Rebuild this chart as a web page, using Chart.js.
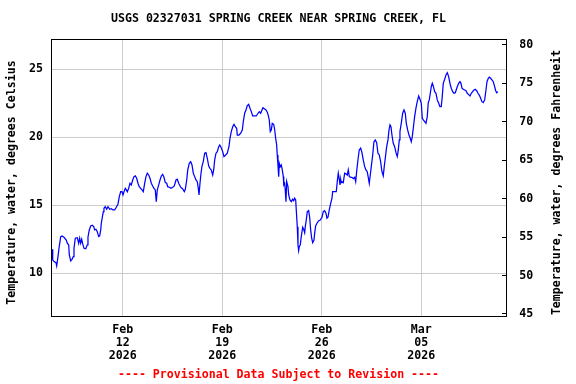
<!DOCTYPE html>
<html lang="en">
<head>
<meta charset="UTF-8">
<title>USGS 02327031 Spring Creek near Spring Creek, FL</title>
<script src="https://cdn.jsdelivr.net/npm/chart.js"></script>
<style>
  html, body { margin: 0; padding: 0; background: #fff; }
  #wrap { width: 576px; height: 384px; }
</style>
</head>
<body>
<div id="wrap"><canvas id="chart" width="576" height="384"></canvas></div>
<script>
// hours since 2026-02-07 00:00
const hours = [
  0.7, 1.9, 4.1, 7.4, 8.6, 10.8, 12.5, 15.4, 17.6, 20.9, 24.8, 26.5, 28.9, 29.9, 32.2, 34.4, 36.6, 37.8,
  40.0, 43.4, 45.7, 47.4, 49.1, 50.8, 52.5, 54.7, 57.6, 60.3, 61.4, 63.6, 66.0, 68.7, 71.1, 72.7, 74.9,
  77.1, 79.5, 81.2, 82.9, 83.9, 85.6, 87.3, 88.4, 90.6, 93.0, 95.2, 98.1, 100.8, 103.6, 106.5, 109.2,
  112.1, 114.3, 116.6, 118.8, 120.5, 122.2, 124.4, 126.1, 127.8, 130.1, 132.3, 134.5, 136.9, 139.1,
  141.3, 143.6, 145.8, 148.0, 150.4, 152.6, 154.8, 157.1, 159.3, 161.5, 163.9, 166.1, 168.3, 170.6,
  172.8, 175.0, 176.7, 178.4, 180.8, 183.0, 185.2, 187.5, 189.7, 191.9, 194.3, 196.0, 198.7, 201.5,
  204.4, 207.1, 210.0, 212.2, 214.5, 217.9, 221.3, 224.0, 225.7, 228.1, 229.8, 232.4, 234.8, 237.0,
  239.2, 241.5, 243.7, 246.0, 247.6, 248.8, 250.5, 252.2, 253.9, 256.0, 258.4, 260.6, 262.8, 265.2,
  267.3, 269.5, 271.9, 273.6, 275.3, 277.5, 279.7, 282.1, 283.8, 286.0, 288.8, 291.0, 293.8, 296.5,
  299.4, 301.1, 303.3, 305.7, 307.9, 310.1, 312.4, 313.4, 316.3, 319.2, 321.9, 323.6, 325.9, 328.1,
  330.3, 332.7, 334.9, 337.1, 339.4, 342.8, 345.5, 348.4, 350.6, 352.9, 355.1, 356.8, 359.7, 361.9,
  364.1, 365.8, 367.4, 369.1, 370.8, 372.5, 374.9, 376.6, 378.2, 379.9, 380.9, 382.1, 383.3, 384.3,
  386.0, 387.7, 389.4, 391.1, 391.9, 393.4, 394.4, 395.6, 396.8, 399.0, 400.2, 402.4, 404.6, 406.9,
  408.6, 410.3, 412.0, 413.0, 414.7, 415.9, 417.0, 418.1, 419.8, 421.4, 423.8, 425.5, 427.2, 428.2,
  429.9, 431.6, 433.9, 435.6, 437.3, 439.0, 440.7, 442.9, 444.0, 445.7, 447.9, 450.8, 453.5, 456.4,
  458.6, 460.9, 463.1, 464.8, 466.5, 468.7, 471.1, 473.3, 474.4, 477.8, 480.5, 482.2, 483.9, 485.6,
  486.8, 487.9, 488.5, 490.1, 492.3, 494.7, 496.9, 499.1, 500.8, 502.5, 504.8, 507.0, 509.2, 511.6,
  513.3, 514.9, 517.1, 519.3, 521.7, 523.9, 526.1, 528.5, 530.6, 532.8, 534.5, 536.2, 537.9, 539.6,
  542.0, 544.1, 546.3, 548.7, 550.9, 553.1, 555.4, 557.6, 559.8, 561.5, 563.2, 565.6, 567.8, 569.5,
  571.2, 572.8, 574.5, 576.7, 579.1, 581.3, 583.5, 585.2, 586.9, 588.0, 590.2, 592.6, 594.8, 597.0,
  598.7, 601.0, 603.2, 605.4, 607.1, 608.8, 610.5, 612.8, 615.0, 617.2, 619.6, 621.8, 624.0, 625.7,
  627.4, 629.7, 631.9, 634.1, 635.8, 637.5, 639.2, 640.9, 642.6, 644.2, 646.6, 648.8, 651.0, 653.4,
  655.5, 657.7, 659.4, 661.1, 663.5, 665.7, 667.9, 670.2, 672.4, 674.6, 677.0, 679.2, 681.4, 684.7,
  687.1, 689.3, 691.0, 692.7, 694.9, 697.2, 699.4, 701.6, 704.0, 706.2, 708.4, 710.7, 712.9, 715.1,
  717.5, 719.7, 721.9, 724.2, 726.4, 728.6, 731.0, 733.2, 734.9, 737.1, 738.8, 741.1, 743.3, 745.5,
  747.9, 749.6, 751.3, 753.4
];

// water temperature, degrees Celsius
const tempC = [
  11.77, 10.98, 10.86, 10.78, 10.54, 11.22, 11.84, 12.70, 12.75, 12.65, 12.45, 12.21, 12.08, 11.35, 10.91, 11.03, 11.22, 11.84,
  12.58, 12.62, 12.21, 12.58, 12.21, 12.50, 12.16, 11.84, 11.81, 12.09, 12.65, 13.19, 13.48, 13.53, 13.43, 13.19, 13.24,
  13.06, 12.70, 12.75, 13.19, 13.68, 14.12, 14.53, 14.78, 14.90, 14.71, 14.90, 14.71, 14.75, 14.66, 14.66, 14.86,
  15.10, 15.64, 16.00, 16.00, 15.76, 16.00, 16.25, 16.13, 16.00, 16.25, 16.62, 16.50, 16.86, 17.11,
  17.16, 16.99, 16.62, 16.37, 16.25, 16.13, 16.00, 16.62, 17.11, 17.36, 17.23, 16.99, 16.62, 16.42,
  16.25, 16.13, 15.27, 16.13, 16.50, 16.86, 17.16, 17.28, 17.06, 16.67, 16.62, 16.37, 16.33, 16.25,
  16.33, 16.42, 16.86, 16.92, 16.62, 16.33, 16.20, 16.00, 16.18, 16.86, 17.60, 18.09, 18.21, 17.97,
  17.36, 17.11, 16.86, 16.74, 16.25, 15.76, 16.62, 17.36, 17.89, 18.21, 18.83, 18.87, 18.46, 17.89,
  17.72, 17.60, 17.23, 17.60, 18.34, 18.83, 18.95, 19.31, 19.44, 19.27, 18.95, 18.58, 18.70, 18.83,
  19.31, 19.93, 20.42, 20.78, 20.96, 20.78, 20.67, 20.17, 20.17, 20.30, 20.54, 21.15, 21.77, 22.01,
  22.33, 22.43, 22.14, 21.89, 21.57, 21.57, 21.57, 21.77, 21.89, 21.77, 22.01, 22.18, 22.09, 22.01,
  21.84, 21.59, 21.28, 20.42, 20.54, 21.03, 20.96, 20.54, 19.93, 19.44, 18.70, 17.97, 17.11, 18.09,
  17.84, 17.97, 17.60, 17.11, 16.50, 16.62, 16.13, 15.27, 16.74, 16.37, 15.76, 15.39, 15.27, 15.45,
  15.34, 15.52, 15.39, 14.66, 13.43, 12.09, 11.67, 11.96, 12.09, 12.70, 13.39, 13.24, 12.99, 13.43,
  13.92, 14.53, 14.61, 14.12, 13.19, 12.58, 12.25, 12.45, 12.94, 13.48, 13.68, 13.87, 13.92, 14.12,
  14.53, 14.61, 14.42, 14.05, 14.12, 14.66, 15.15, 15.52, 16.00, 16.00, 16.00, 16.74, 17.36, 16.92,
  16.50, 16.92, 16.67, 16.74, 16.67, 17.36, 17.31, 17.23, 17.60, 17.11, 17.06, 17.06, 16.96, 17.06,
  16.74, 17.47, 18.33, 19.07, 19.20, 18.87, 18.33, 17.84, 17.60, 17.47, 17.06, 16.62, 17.23, 17.84,
  18.70, 19.68, 19.81, 19.61, 18.83, 18.70, 18.21, 17.47, 17.16, 17.84, 18.46, 19.31, 19.81, 20.54,
  20.91, 20.78, 20.17, 19.56, 19.31, 18.87, 18.58, 19.07, 19.81, 20.42, 21.03, 21.77, 22.01, 21.77,
  21.03, 20.54, 20.17, 19.93, 19.68, 20.05, 20.67, 21.52, 22.14, 22.62, 23.04, 22.80, 22.50, 21.40,
  21.28, 21.15, 21.03, 21.52, 22.55, 22.75, 23.24, 23.72, 23.97, 23.78, 23.36, 23.24, 22.75, 22.50,
  22.25, 22.25, 22.99, 23.97, 24.27, 24.59, 24.75, 24.46, 23.97, 23.61, 23.36, 23.24, 23.28, 23.72,
  23.97, 24.09, 23.97, 23.61, 23.53, 23.48, 23.43, 23.24, 23.14, 23.04, 23.24, 23.36, 23.48, 23.53,
  23.43, 23.24, 23.11, 22.87, 22.62, 22.55, 22.75, 23.48, 24.09, 24.34, 24.42, 24.34, 24.22, 24.09,
  23.72, 23.43, 23.28, 23.36
];

const dateTicks = [120, 288, 456, 624];
const dateLabels = [['Feb', '12', '2026'], ['Feb', '19', '2026'], ['Feb', '26', '2026'], ['Mar', '05', '2026']];
const celsiusTicks = [10, 15, 20, 25];
const fahrenheitTicks = [45, 50, 55, 60, 65, 70, 75, 80];
const axisTitles = ['Temperature, water, degrees Celsius', 'Temperature, water, degrees Fahrenheit'];

const mono = { family: "'DejaVu Sans Mono', monospace", size: 11.6, weight: 'bold', lineHeight: 1.2 };

// black box round the plot area, and both axis titles read bottom-to-top
const frame = {
  id: 'frame',
  afterDatasetsDraw(chart) {
    const { ctx, chartArea: a } = chart;
    ctx.save();
    ctx.strokeStyle = '#000';
    ctx.lineWidth = 1;
    ctx.strokeRect(a.left + 0.5, a.top + 0.5, a.right - a.left, a.bottom - a.top);
    ctx.restore();
  },
  afterDraw(chart) {
    const { ctx } = chart;
    const midY = (chart.chartArea.top + chart.chartArea.bottom) / 2 + 5;
    const xs = [chart.scales.y.left + 11.5, chart.scales.y2.right - 19];
    ctx.save();
    ctx.fillStyle = '#000';
    ctx.font = "bold 11.6px 'DejaVu Sans Mono', monospace";
    ctx.textAlign = 'center';
    ctx.textBaseline = 'middle';
    axisTitles.forEach((t, i) => {
      ctx.save();
      ctx.translate(xs[i], midY);
      ctx.rotate(-Math.PI / 2);
      ctx.fillText(t, 0, 0);
      ctx.restore();
    });
    ctx.restore();
  }
};

new Chart(document.getElementById('chart'), {
  type: 'line',
  data: {
    datasets: [{
      data: hours.map((h, i) => ({ x: h, y: tempC[i] })),
      borderColor: '#0000ff',
      borderWidth: 1.25,
      pointRadius: 0,
      tension: 0,
      yAxisID: 'y'
    }]
  },
  options: {
    responsive: false,
    animation: false,
    devicePixelRatio: 1,
    layout: { padding: 0 },
    plugins: {
      legend: { display: false },
      tooltip: { enabled: false },
      title: {
        display: true,
        fullSize: false,
        text: 'USGS 02327031 SPRING CREEK NEAR SPRING CREEK, FL',
        color: '#000',
        font: mono,
        padding: { top: 12.5, bottom: 12.58 }
      },
      subtitle: {
        display: true,
        fullSize: false,
        position: 'bottom',
        text: '---- Provisional Data Subject to Revision ----',
        color: '#ff0000',
        font: mono,
        padding: { top: 1, bottom: 2 }
      }
    },
    scales: {
      x: {
        type: 'linear',
        min: -1,
        max: 767,
        afterBuildTicks: s => { s.ticks = dateTicks.map(v => ({ value: v })); },
        afterFit: s => { s.height = 384 - 316 - 16.92; },
        grid: { color: '#cccccc', drawTicks: false },
        border: { display: false },
        ticks: {
          autoSkip: false,
          maxRotation: 0,
          padding: 7.6,
          color: '#000',
          font: { ...mono, lineHeight: 1.1 },
          callback: (v, i) => dateLabels[i]
        }
      },
      y: {
        position: 'left',
        min: 6.86,
        max: 27.23,
        afterBuildTicks: s => { s.ticks = celsiusTicks.map(v => ({ value: v })); },
        afterFit: s => { s.width = 51; },
        grid: { color: '#cccccc', drawTicks: false },
        border: { display: false },
        ticks: { padding: 8, color: '#000', font: mono }
      },
      y2: {
        position: 'right',
        min: 44.74,
        max: 80.74,
        afterBuildTicks: s => { s.ticks = fahrenheitTicks.map(v => ({ value: v })); },
        afterFit: s => { s.width = 70; },
        grid: { drawOnChartArea: false, drawTicks: true, tickLength: -4, color: '#000' },
        border: { display: false },
        ticks: { padding: 17.3, color: '#000', font: mono }
      }
    }
  },
  plugins: [frame]
});
</script>
</body>
</html>
